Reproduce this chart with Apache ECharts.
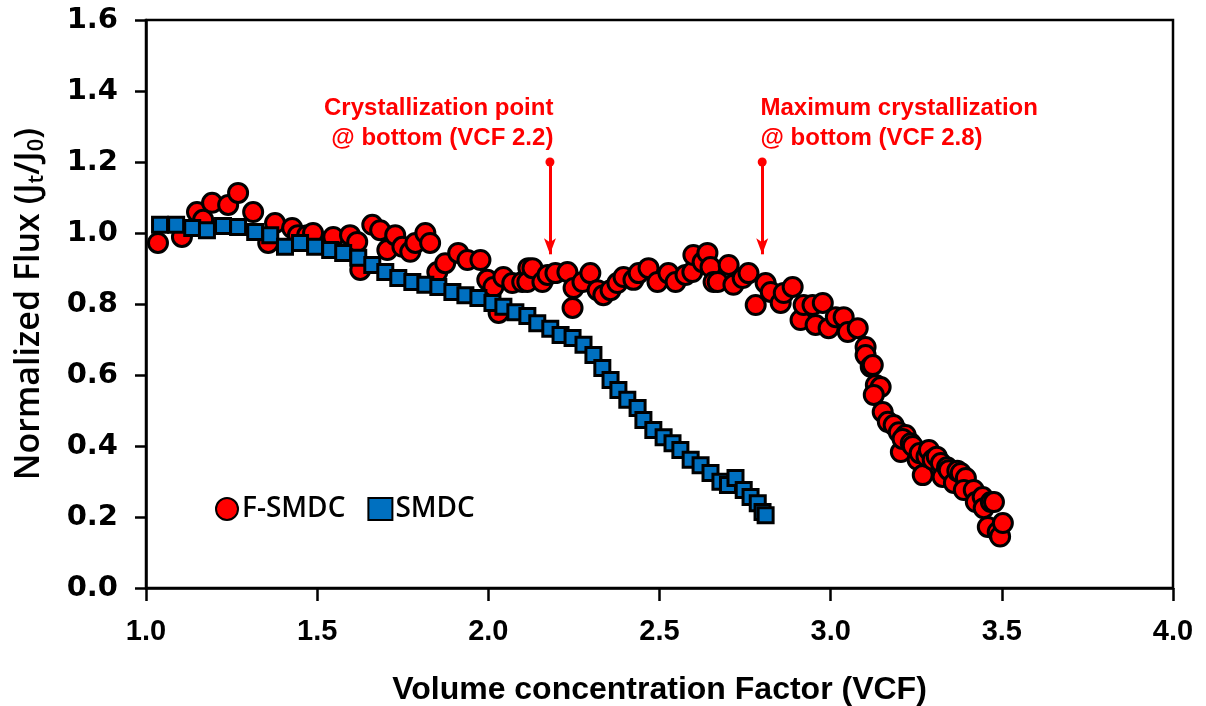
<!DOCTYPE html>
<html><head><meta charset="utf-8">
<script src="https://cdn.jsdelivr.net/npm/echarts@6/dist/echarts.min.js"></script>
<style>html,body{margin:0;padding:0;background:#fff}#c{width:1206px;height:706px}</style>
</head><body><div id="c"></div>
<script>
const xTicks = ['1.0','1.5','2.0','2.5','3.0','3.5','4.0'];
const yTicks = ['0.0','0.2','0.4','0.6','0.8','1.0','1.2','1.4','1.6'];
const fsmdc = [
[1.035,0.972],[1.105,0.989],[1.149,1.059],[1.167,1.037],[1.193,1.085],[1.240,1.079],[1.269,1.113],[1.313,1.059],
[1.357,0.972],[1.377,1.028],[1.427,1.014],[1.444,0.994],[1.471,0.994],[1.488,1.000],[1.547,0.986],[1.547,0.989],
[1.596,0.994],[1.617,0.975],[1.626,0.896],[1.661,1.023],[1.684,1.008],[1.705,0.952],[1.728,0.994],[1.749,0.961],
[1.772,0.947],[1.787,0.972],[1.816,1.000],[1.830,0.972],[1.851,0.890],[1.874,0.915],[1.912,0.944],[1.939,0.924],
[1.977,0.924],[1.997,0.868],[2.015,0.848],[2.030,0.775],[2.044,0.876],[2.070,0.859],[2.099,0.862],[2.117,0.901],
[2.114,0.862],[2.129,0.901],[2.158,0.862],[2.173,0.882],[2.196,0.887],[2.231,0.890],[2.249,0.845],[2.246,0.789],
[2.275,0.862],[2.298,0.887],[2.319,0.839],[2.336,0.825],[2.357,0.839],[2.377,0.859],[2.395,0.876],[2.424,0.868],
[2.439,0.887],[2.468,0.901],[2.494,0.862],[2.526,0.887],[2.547,0.862],[2.576,0.882],[2.596,0.890],[2.599,0.938],
[2.626,0.918],[2.640,0.944],[2.649,0.904],[2.658,0.862],[2.670,0.862],[2.702,0.910],[2.716,0.854],[2.743,0.873],
[2.760,0.887],[2.781,0.797],[2.810,0.859],[2.825,0.834],[2.854,0.803],[2.863,0.831],[2.889,0.848],[2.912,0.755],
[2.921,0.797],[2.947,0.797],[2.956,0.741],[2.977,0.803],[2.994,0.732],[3.015,0.763],[3.038,0.763],[3.050,0.721],
[3.079,0.732],[3.102,0.679],[3.102,0.656],[3.117,0.623],[3.123,0.628],[3.132,0.572],[3.146,0.566],[3.126,0.544],
[3.152,0.496],[3.167,0.468],[3.184,0.459],[3.199,0.439],[3.219,0.431],[3.205,0.383],[3.210,0.420],[3.234,0.408],
[3.240,0.400],[3.254,0.361],[3.260,0.380],[3.269,0.318],[3.280,0.370],[3.287,0.389],[3.298,0.361],[3.310,0.370],
[3.322,0.352],[3.327,0.313],[3.340,0.340],[3.345,0.332],[3.360,0.296],[3.370,0.330],[3.380,0.324],[3.395,0.310],
[3.389,0.276],[3.418,0.276],[3.424,0.242],[3.444,0.256],[3.447,0.225],[3.468,0.242],[3.459,0.172],[3.477,0.242],
[3.488,0.158],[3.495,0.145],[3.503,0.183]
];
const smdc = [
[1.041,1.023],[1.088,1.023],[1.135,1.014],[1.178,1.008],[1.225,1.020],[1.269,1.017],[1.319,1.003],[1.363,0.994],
[1.406,0.961],[1.450,0.972],[1.494,0.961],[1.538,0.952],[1.576,0.944],[1.620,0.930],[1.661,0.910],[1.699,0.890],
[1.737,0.873],[1.778,0.862],[1.816,0.854],[1.854,0.848],[1.895,0.834],[1.933,0.825],[1.971,0.817],[2.012,0.803],
[2.044,0.792],[2.079,0.777],[2.114,0.766],[2.143,0.746],[2.181,0.730],[2.211,0.713],[2.246,0.704],[2.278,0.685],
[2.307,0.656],[2.333,0.620],[2.357,0.586],[2.380,0.558],[2.406,0.530],[2.436,0.507],[2.453,0.473],[2.482,0.445],
[2.512,0.425],[2.538,0.408],[2.561,0.389],[2.591,0.361],[2.620,0.346],[2.649,0.324],[2.678,0.299],[2.700,0.290],
[2.722,0.310],[2.746,0.276],[2.766,0.256],[2.787,0.239],[2.801,0.214],[2.810,0.205]
];
const annotations = [
  {lines:['Crystallization point','@ bottom (VCF 2.2)'], at:[2.19,1.31], align:'right', arrowX:2.18},
  {lines:['Maximum crystallization','@ bottom (VCF 2.8)'], at:[2.795,1.31], align:'left', arrowX:2.80}
];
const arrowTop = 1.2, arrowBottom = 0.94;

const chart = echarts.init(document.getElementById('c'));
chart.setOption({
  animation:false,
  grid:{left:146, right:33, top:20, bottom:118, show:true, borderColor:'#000', borderWidth:2.5,
        backgroundColor:'transparent', containLabel:false, outerBoundsMode:'none'},
  legend:{
    left:210, top:490, itemGap:22, itemWidth:24, itemHeight:22,
    data:['F-SMDC','SMDC'],
    textStyle:{fontFamily:'Open Sans', fontSize:28, fontWeight:600, color:'#000', padding:[0,0,0,-2]}
  },
  xAxis:{
    type:'value', min:1, max:4, interval:0.5,
    name:'Volume concentration Factor (VCF)', nameLocation:'middle', nameGap:86,
    nameTextStyle:{fontFamily:'Liberation Sans', fontSize:32, fontWeight:'bold', color:'#000'},
    axisLine:{lineStyle:{color:'#000', width:2.5}},
    axisTick:{show:true, inside:false, length:13, lineStyle:{color:'#000', width:2.5}},
    axisLabel:{fontFamily:'Liberation Sans', fontSize:29, fontWeight:'bold', color:'#000', margin:29,
      formatter:v=>xTicks[Math.round((v-1)/0.5)]},
    splitLine:{show:false}
  },
  yAxis:{
    type:'value', min:0, max:1.6, interval:0.2,
    name:'{n|Normalized Flux (J}{s|t}{n|/J}{s|0}{n|)}', nameLocation:'middle', nameGap:98, nameRotate:90,
    nameTextStyle:{rich:{
      n:{fontFamily:'Open Sans', fontSize:34, fontWeight:600, color:'#000'},
      s:{fontFamily:'Open Sans', fontSize:22, fontWeight:600, color:'#000', verticalAlign:'bottom', padding:[16,0,0,0]}
    }},
    axisLine:{show:true, lineStyle:{color:'#000', width:2.5}},
    axisTick:{show:true, inside:false, length:11, lineStyle:{color:'#000', width:2.5}},
    axisLabel:{fontFamily:'DejaVu Sans', fontSize:29, fontWeight:'bold', color:'#000', margin:28,
      formatter:v=>yTicks[Math.round(v/0.2)]},
    splitLine:{show:false}
  },
  series:[
    {name:'F-SMDC', type:'scatter', data:fsmdc, symbol:'circle', symbolSize:19,
     itemStyle:{color:'#ff0000', borderColor:'#000', borderWidth:3, opacity:1},
     markLine:{silent:true, animation:false, symbol:['circle','arrow'], symbolSize:[9,16],
       lineStyle:{color:'#ff0000', width:3, type:'solid'}, label:{show:false},
       data:annotations.map(a=>[{coord:[a.arrowX,arrowTop]},{coord:[a.arrowX,arrowBottom]}])}
    },
    {name:'SMDC', type:'scatter', data:smdc, symbol:'rect', symbolSize:15,
     itemStyle:{color:'#0070c0', borderColor:'#000', borderWidth:3, opacity:1}}
  ]
});
const g = annotations.map(a=>{
  const p = chart.convertToPixel({gridIndex:0}, a.at);
  return {type:'text', x:p[0], y:p[1], style:{
    text:a.lines.join('\n'), align:a.align, verticalAlign:'middle', lineHeight:30,
    fill:'#ff0000', font:'bold 24px "Liberation Sans", sans-serif'}};
});
chart.setOption({graphic:g});
</script></body></html>
